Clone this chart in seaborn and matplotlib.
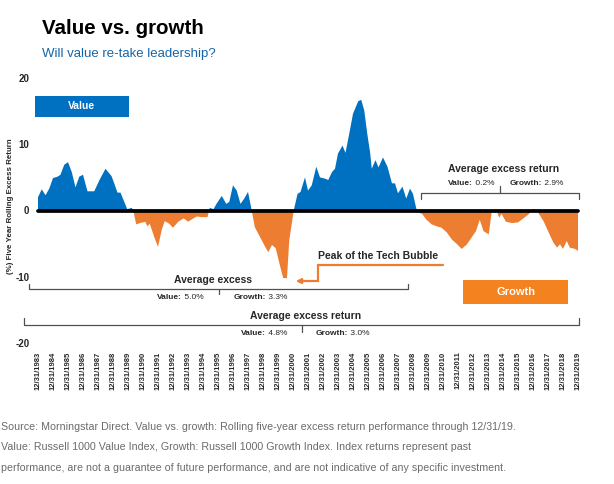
import matplotlib

matplotlib.use("Agg")
import matplotlib.pyplot as plt
import pandas as pd
import seaborn as sns
from matplotlib.patches import Rectangle

# rolling five-year excess return (value minus growth)
years = [
    1983.0, 1983.25, 1983.5, 1983.75, 1984.0, 1984.3, 1984.5, 1984.75,
    1985.0, 1985.25, 1985.5, 1985.75, 1986.0, 1986.3, 1986.75, 1987.1,
    1987.5, 1987.9, 1988.05, 1988.3, 1988.5, 1988.95, 1989.25, 1989.35,
    1989.55, 1989.8, 1990.15, 1990.3, 1990.45, 1990.75, 1991.0, 1991.25,
    1991.45, 1991.75, 1992.0, 1992.35, 1992.7, 1992.85, 1993.0, 1993.35,
    1993.6, 1993.9, 1994.15, 1994.3, 1994.4, 1994.45, 1994.7, 1994.9,
    1995.25, 1995.55, 1995.75, 1996.0, 1996.25, 1996.5, 1996.75, 1997.0,
    1997.25, 1997.45, 1997.8, 1998.15, 1998.35, 1998.6, 1998.85, 1999.15,
    1999.35, 1999.6, 1999.75, 1999.95, 2000.05, 2000.3, 2000.5, 2000.8,
    2001.0, 2001.25, 2001.55, 2001.8, 2002.15, 2002.35, 2002.6, 2002.8,
    2003.0, 2003.3, 2003.5, 2003.75, 2004.0, 2004.35, 2004.55, 2004.75,
    2004.95, 2005.15, 2005.25, 2005.5, 2005.7, 2006.0, 2006.3, 2006.6,
    2006.8, 2007.0, 2007.3, 2007.55, 2007.8, 2008.0, 2008.25, 2008.35,
    2008.6, 2008.9, 2009.25, 2009.6, 2009.9, 2010.25, 2010.6, 2010.9,
    2011.25, 2011.6, 2011.9, 2012.2, 2012.45, 2012.7, 2012.9, 2013.05,
    2013.25, 2013.6, 2013.75, 2013.9, 2014.2, 2014.6, 2015.0, 2015.35,
    2015.7, 2016.0, 2016.25, 2016.45, 2016.7, 2017.0, 2017.35, 2017.6,
    2017.8, 2018.0, 2018.25, 2018.45, 2018.8, 2019.0,
]
excess = [
    2.0, 3.2, 2.3, 3.3, 4.9, 5.1, 5.4, 6.9,
    7.3, 5.8, 3.5, 5.1, 5.4, 2.9, 2.9, 4.6,
    6.3, 5.2, 4.3, 2.7, 2.7, 0.2, 0.4, 0.0,
    -2.1, -1.9, -1.7, -2.4, -2.0, -4.0, -5.5, -2.9,
    -1.6, -2.0, -2.6, -1.7, -1.2, -1.4, -1.7, -1.2,
    -0.9, -1.0, -1.0, -1.0, 0.0, 0.4, 0.2, 1.0,
    2.2, 1.0, 1.3, 3.8, 3.0, 1.0, 1.8, 2.8,
    0.0, -2.5, -4.0, -5.5, -6.3, -5.2, -5.7, -8.5,
    -10.2, -10.2, -4.5, -1.5, 0.0, 2.5, 2.8, 5.0,
    3.0, 3.8, 6.6, 5.0, 4.8, 4.6, 5.8, 6.3,
    8.6, 9.8, 8.7, 11.6, 14.6, 16.5, 16.7, 15.1,
    11.6, 8.6, 6.3, 7.6, 6.5, 8.0, 6.6, 4.1,
    4.1, 2.6, 3.6, 1.8, 3.3, 2.5, 0.0, -0.3,
    -0.5, -1.4, -2.1, -2.4, -2.6, -3.3, -4.4, -5.0,
    -5.8, -5.1, -4.1, -3.1, -1.4, -3.1, -3.4, -3.6,
    -0.2, -0.2, -1.1, -0.5, -1.7, -1.9, -1.8, -1.2,
    -0.6, 0.2, 0.0, -0.7, -1.6, -3.1, -4.8, -5.6,
    -5.1, -5.8, -4.6, -5.6, -5.8, -6.1,
]
tick_years = list(range(1983, 2020))
tick_labels = [f"12/31/{y}" for y in tick_years]
y_ticks = [-20, -10, 0, 10, 20]

# average excess returns: first period, full period, recent period
period_labels = ["Average excess", "Average excess return", "Average excess return"]
period_values = ["5.0%", "4.8%", "0.2%"]
period_growth = ["3.3%", "3.0%", "2.9%"]

BLUE = "#0070c0"
ORANGE = "#ed7d31"
BOX_ORANGE = "#f4821f"
GREY = "#505050"

sns.set_theme(style="white")
plt.rcParams["font.family"] = ["Liberation Sans", "DejaVu Sans"]

df = pd.DataFrame({"year": years, "excess": excess})

fig = plt.figure(figsize=(6.14, 4.84), dpi=100)
ax = fig.add_axes([35 / 614, 141 / 484, 547.5 / 614, 265 / 484])

ax.fill_between(df["year"], df["excess"], 0, where=df["excess"] >= 0,
                interpolate=True, color=BLUE, lw=0)
ax.fill_between(df["year"], df["excess"], 0, where=df["excess"] <= 0,
                interpolate=True, color=ORANGE, lw=0)
sns.lineplot(x=[years[0], years[-1]], y=[0, 0], ax=ax, color="black", lw=2.7)

ax.set_xlim(1982.8, 2019.3)
ax.set_ylim(-20, 20)
ax.set_xticks(tick_years)
ax.set_xticklabels(tick_labels, rotation=90, fontsize=5.5, fontweight="bold", va="top")
ax.set_yticks(y_ticks)
ax.set_yticklabels([str(v) for v in y_ticks], fontsize=7, fontweight="bold")
ax.tick_params(axis="both", length=0, pad=4)
ax.tick_params(axis="x", pad=6)
ax.set_ylabel("(%) Five Year Rolling Excess Return", fontsize=5.7, fontweight="bold")
ax.yaxis.set_label_coords(-0.038, 0.515)
sns.despine(ax=ax, left=True, bottom=True)
ax.set_xlabel("")


def bracket(x0, x1, y, tip, mid_tip):
    xm = (x0 + x1) / 2
    ax.plot([x0, x0, x1, x1], [y + tip, y, y, y + tip], color=GREY, lw=0.9, clip_on=False)
    ax.plot([xm, xm], [y, y + mid_tip], color=GREY, lw=0.9, clip_on=False)


def split_label(x_split, y, bold, normal):
    ax.text(x_split, y, bold, ha="right", va="center", fontsize=6, fontweight="bold")
    ax.text(x_split, y, " " + normal, ha="left", va="center", fontsize=6)


# recent period bracket
bracket(2008.5, 2019.09, 2.67, -0.9, 1.0)
ax.text(2014.07, 6.33, period_labels[2], ha="center", va="center", fontsize=7.5, fontweight="bold")
split_label(2011.97, 4.07, "Value:", period_values[2])
split_label(2016.57, 4.07, "Growth:", period_growth[2])

# first period bracket
bracket(1982.42, 2007.67, -11.9, 0.8, -0.75)
ax.text(1994.67, -10.5, period_labels[0], ha="center", va="center", fontsize=7.5, fontweight="bold")
split_label(1992.57, -13.06, "Value:", period_values[0])
split_label(1998.17, -13.06, "Growth:", period_growth[0])

# full period bracket
bracket(1982.09, 2019.09, -17.27, 1.0, -1.05)
ax.text(2000.87, -15.9, period_labels[1], ha="center", va="center", fontsize=7.5, fontweight="bold")
split_label(1998.21, -18.55, "Value:", period_values[1])
split_label(2003.64, -18.55, "Growth:", period_growth[1])

# tech bubble callout
ax.plot([2009.98, 2001.69, 2001.69, 2000.6], [-8.28, -8.28, -10.65, -10.65],
        color=ORANGE, lw=1.6, solid_joinstyle="miter")
ax.annotate("", xy=(2000.0, -10.65), xytext=(2000.9, -10.65),
            arrowprops=dict(arrowstyle="-|>", color=ORANGE, lw=1.6, mutation_scale=7))
ax.text(2005.7, -6.88, "Peak of the Tech Bubble", ha="center", va="center",
        fontsize=7.5, fontweight="bold")

# legend boxes
ax.add_patch(Rectangle((1982.8, 14.16), 6.27, 3.16, color=BLUE, lw=0, clip_on=False))
ax.text(1985.93, 15.74, "Value", ha="center", va="center", color="white",
        fontsize=7.5, fontweight="bold")
ax.add_patch(Rectangle((2011.35, -14.16), 7.0, 3.66, color=BOX_ORANGE, lw=0))
ax.text(2014.85, -12.33, "Growth", ha="center", va="center", color="white",
        fontsize=8, fontweight="bold")

fig.text(41.7 / 614, 1 - 34.3 / 484, "Value vs. growth",
         fontsize=14.8, fontweight="bold", color="black", va="baseline")
fig.text(41.7 / 614, 1 - 56.7 / 484, "Will value re-take leadership?",
         fontsize=9.5, color="#1565a8", va="baseline")

footer = [
    "Source: Morningstar Direct. Value vs. growth: Rolling five-year excess return performance through 12/31/19.",
    "Value: Russell 1000 Value Index, Growth: Russell 1000 Growth Index. Index returns represent past",
    "performance, are not a guarantee of future performance, and are not indicative of any specific investment.",
]
for i, line in enumerate(footer):
    fig.text(1.5 / 614, 1 - (430 + 20.5 * i) / 484, line,
             fontsize=7.7, color="#6b6b6b", va="baseline")

fig.savefig("out.png", dpi=100)
